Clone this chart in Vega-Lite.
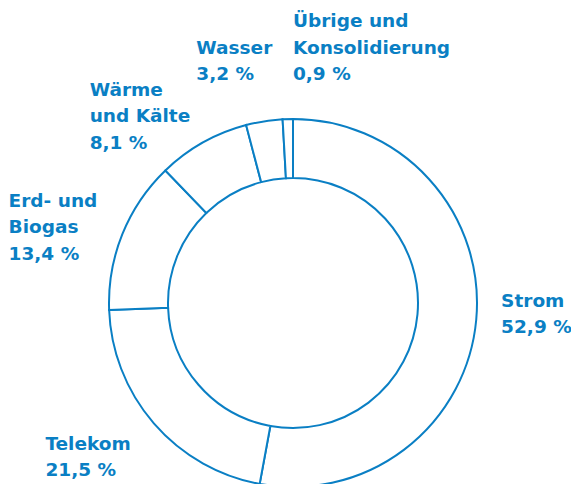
{
  "$schema": "https://vega.github.io/schema/vega-lite/v6.json",
  "width": 586,
  "height": 606,
  "autosize": "none",
  "padding": 0,
  "background": "white",
  "config": {"view": {"stroke": null}},
  "data": {
    "values": [
      {"idx": 1, "cat": "Strom", "value": 52.9, "label": "Strom\n52,9 %"},
      {"idx": 2, "cat": "Telekom", "value": 21.5, "label": "Telekom\n21,5 %"},
      {"idx": 3, "cat": "Erd- und Biogas", "value": 13.4, "label": "Erd- und\nBiogas\n13,4 %"},
      {"idx": 4, "cat": "Wärme und Kälte", "value": 8.1, "label": "Wärme\nund Kälte\n8,1 %"},
      {"idx": 5, "cat": "Wasser", "value": 3.2, "label": "Wasser\n3,2 %"},
      {"idx": 6, "cat": "Übrige und Konsolidierung", "value": 0.9, "label": "Übrige und\nKonsolidierung\n0,9 %"}
    ]
  },
  "encoding": {
    "theta": {"field": "value", "type": "quantitative", "stack": true},
    "order": {"field": "idx", "type": "quantitative"}
  },
  "layer": [
    {
      "mark": {"type": "arc", "outerRadius": 184, "innerRadius": 125, "fill": "white", "stroke": "#0a7fc4", "strokeWidth": 2}
    },
    {
      "mark": {"type": "text", "align": "left", "baseline": "alphabetic", "font": "DejaVu Sans", "fontWeight": "bold", "fontSize": 18.5, "lineHeight": 26.5, "lineBreak": "\n", "fill": "#0a7fc4", "dx": -6, "dy": -16},
      "encoding": {"radius": {"value": 215}, "text": {"condition": {"test": "datum.cat === 'Strom'", "field": "label"}, "value": ""}}
    },
    {
      "mark": {"type": "text", "align": "left", "baseline": "alphabetic", "font": "DejaVu Sans", "fontWeight": "bold", "fontSize": 18.5, "lineHeight": 26.5, "lineBreak": "\n", "fill": "#0a7fc4", "dx": -85, "dy": 6},
      "encoding": {"radius": {"value": 215}, "text": {"condition": {"test": "datum.cat === 'Telekom'", "field": "label"}, "value": ""}}
    },
    {
      "mark": {"type": "text", "align": "left", "baseline": "alphabetic", "font": "DejaVu Sans", "fontWeight": "bold", "fontSize": 18.5, "lineHeight": 26.5, "lineBreak": "\n", "fill": "#0a7fc4", "dx": -85, "dy": -16},
      "encoding": {"radius": {"value": 215}, "text": {"condition": {"test": "datum.cat === 'Erd- und Biogas'", "field": "label"}, "value": ""}}
    },
    {
      "mark": {"type": "text", "align": "left", "baseline": "alphabetic", "font": "DejaVu Sans", "fontWeight": "bold", "fontSize": 18.5, "lineHeight": 26.5, "lineBreak": "\n", "fill": "#0a7fc4", "dx": -98, "dy": -20},
      "encoding": {"radius": {"value": 215}, "text": {"condition": {"test": "datum.cat === 'Wärme und Kälte'", "field": "label"}, "value": ""}}
    },
    {
      "mark": {"type": "text", "align": "left", "baseline": "alphabetic", "font": "DejaVu Sans", "fontWeight": "bold", "fontSize": 18.5, "lineHeight": 26.5, "lineBreak": "\n", "fill": "#0a7fc4", "dx": -63, "dy": -37},
      "encoding": {"radius": {"value": 215}, "text": {"condition": {"test": "datum.cat === 'Wasser'", "field": "label"}, "value": ""}}
    },
    {
      "mark": {"type": "text", "align": "left", "baseline": "alphabetic", "font": "DejaVu Sans", "fontWeight": "bold", "fontSize": 18.5, "lineHeight": 26.5, "lineBreak": "\n", "fill": "#0a7fc4", "dx": 6, "dy": -61},
      "encoding": {"radius": {"value": 215}, "text": {"condition": {"test": "datum.cat === 'Übrige und Konsolidierung'", "field": "label"}, "value": ""}}
    }
  ]
}
